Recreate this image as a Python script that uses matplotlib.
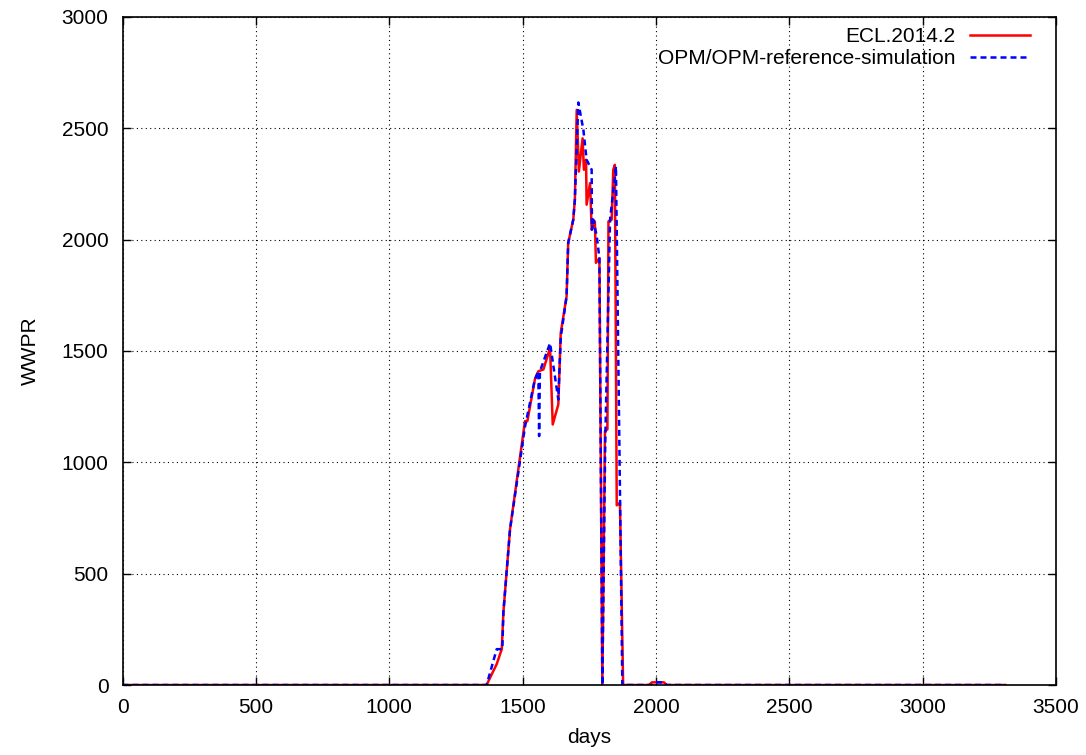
import numpy as np
import matplotlib
matplotlib.use('Agg')
import matplotlib.pyplot as plt

plt.rcParams['font.family'] = ['Liberation Sans', 'DejaVu Sans']

# ECL.2014.2
ecl_days = [0, 1365, 1403, 1422, 1428, 1453, 1509, 1518, 1546, 1559, 1578, 1603,
            1613, 1634, 1643, 1665, 1671, 1690, 1696, 1703, 1711, 1725, 1730, 1738,
            1740, 1753, 1759, 1771, 1775, 1788, 1799, 1809, 1818, 1822, 1834, 1840,
            1846, 1853, 1865, 1877, 1974, 1985, 2030, 2040, 3310]
ecl_wwpr = [0, 0, 94, 161, 326, 700, 1185, 1185, 1372, 1409, 1417, 1514,
            1170, 1260, 1581, 1746, 1985, 2090, 2179, 2583, 2306, 2455, 2314, 2359,
            2157, 2254, 2045, 2082, 1896, 1917, 0, 1140, 1148, 2082, 2090, 2314,
            2336, 807, 818, 0, 0, 12, 12, 0, 0]

# OPM/OPM-reference-simulation
opm_days = [0, 1365, 1403, 1424, 1428, 1453, 1509, 1546, 1559, 1562, 1565, 1603,
            1634, 1643, 1665, 1671, 1690, 1696, 1709, 1728, 1740, 1759, 1760, 1765,
            1778, 1788, 1799, 1810, 1828, 1850, 1874, 1990, 2000, 2030, 2040, 3310]
opm_wwpr = [0, 0, 161, 161, 326, 700, 1160, 1372, 1409, 1118, 1409, 1535,
            1282, 1560, 1746, 1985, 2090, 2179, 2616, 2493, 2359, 2314, 2045, 2090,
            2015, 1918, 0, 1100, 2090, 2329, 0, 0, 12, 12, 0, 0]

fig = plt.figure(figsize=(10.86, 7.55), dpi=100)
ax = fig.add_axes([0.1128, 0.0927, 0.9724 - 0.1128, 0.9775 - 0.0927])

ax.plot(ecl_days, ecl_wwpr, color='#ff0000', lw=1.8, label='ECL.2014.2')
ax.plot(opm_days, opm_wwpr, color='#0000ff', lw=1.8, ls=(0, (2.4, 1.6)),
        label='OPM/OPM-reference-simulation')

ax.set_xlim(0, 3500)
ax.set_ylim(0, 3000)
ax.set_xticks(np.arange(0, 3501, 500))
ax.set_yticks(np.arange(0, 3001, 500))
ax.tick_params(direction='in', top=True, right=True, length=6, width=1,
               labelsize=15)
ax.tick_params(axis='x', pad=9)
ax.tick_params(axis='y', pad=10)
ax.grid(True, color='black', ls=(0, (1, 3)), lw=0.8)
for s in ax.spines.values():
    s.set_linewidth(1.2)

ax.set_xlabel('days', fontsize=15, labelpad=8)
ax.set_ylabel('WWPR', fontsize=15, labelpad=16)

leg = ax.legend(loc='upper right', bbox_to_anchor=(0.981, 0.997), borderaxespad=0,
                frameon=False, markerfirst=False, fontsize=15,
                handlelength=2.9, handletextpad=0.67, labelspacing=0.15)

fig.savefig('out.png', dpi=100)
